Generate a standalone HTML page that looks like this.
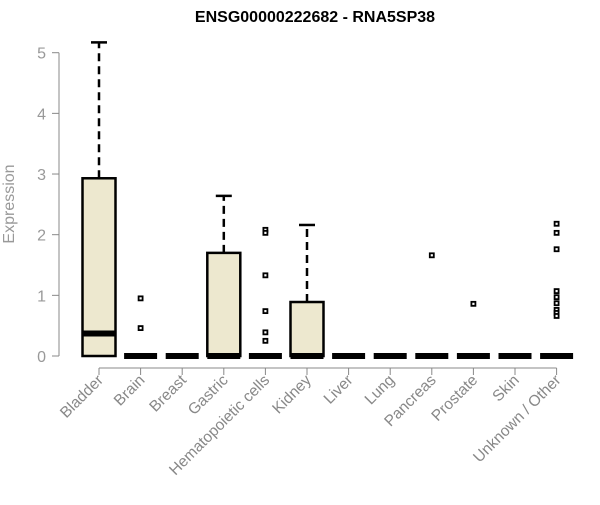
<!DOCTYPE html>
<html><head><meta charset="utf-8"><style>
body{margin:0;background:#fff}
svg{font-family:"Liberation Sans",Arial,sans-serif}
</style></head><body>
<svg id="chart" width="600" height="500">
<text x="315" y="22" text-anchor="middle" font-weight="bold" font-size="16">ENSG00000222682 - RNA5SP38</text>
<text transform="translate(14,204) rotate(-90)" text-anchor="middle" font-size="16" fill="#999">Expression</text>
<g id="yaxis"></g>
<g id="xaxis"></g>
<g id="plot"></g>
</svg>
<script>
const categories=["Bladder","Brain","Breast","Gastric","Hematopoietic cells","Kidney","Liver","Lung","Pancreas","Prostate","Skin","Unknown / Other"];
const q1=[0,0,0,0,0,0,0,0,0,0,0,0];
const medians=[0.37,0,0,0,0,0,0,0,0,0,0,0];
const q3=[2.93,0,0,1.7,0,0.89,0,0,0,0,0,0];
const whiskerLow=[0,0,0,0,0,0,0,0,0,0,0,0];
const whiskerHigh=[5.17,0,0,2.64,0,2.16,0,0,0,0,0,0];
const outliers=[[],[0.95,0.46],[],[],[2.08,2.03,1.33,0.74,0.39,0.25],[],[],[],[1.66],[0.86],[],[2.18,2.03,1.76,1.07,0.97,0.87,0.76,0.71,0.66]];
const yTicks=[0,1,2,3,4,5];
const NS="http://www.w3.org/2000/svg";
const y=v=>356-v*60.66;
const x=i=>99+i*41.6;
function mk(tag,attrs,parent){const e=document.createElementNS(NS,tag);for(const k in attrs)e.setAttribute(k,attrs[k]);parent.appendChild(e);return e;}
const ya=document.getElementById('yaxis'),xa=document.getElementById('xaxis'),p=document.getElementById('plot');
mk('line',{x1:59,x2:59,y1:y(0),y2:y(5),stroke:'#888'},ya);
yTicks.forEach(t=>{
  const l=mk('line',{x1:52,x2:59,y1:y(t),y2:y(t),stroke:'#888'},ya);
  
  
  const tx=mk('text',{x:46,y:y(t)+6,'text-anchor':'end','font-size':16,fill:'#999'},ya);
  tx.textContent=t;
  
  
});
mk('line',{x1:x(0),x2:x(categories.length-1),y1:368,y2:368,stroke:'#888'},xa);
categories.forEach((c,i)=>{
  const cx=x(i);
  mk('line',{x1:cx,x2:cx,y1:368,y2:375,stroke:'#888'},xa);
  const t=mk('text',{transform:`translate(${cx+5},${381}) rotate(-45)`,'text-anchor':'end','font-size':15.5,fill:'#888'},xa);
  t.textContent=c;
  
  
  const g=mk('g',{},p);
  
  
  const hw=16.5;
  if(whiskerHigh[i]>q3[i]){
    mk('line',{x1:cx,x2:cx,y1:y(q3[i]),y2:y(whiskerHigh[i]),stroke:'#000','stroke-width':2.5,'stroke-dasharray':'8,5'},g);
    mk('line',{x1:cx-8,x2:cx+8,y1:y(whiskerHigh[i]),y2:y(whiskerHigh[i]),stroke:'#000','stroke-width':2.5},g);
  }
  if(q3[i]>q1[i]){
    mk('rect',{x:cx-hw,y:y(q3[i]),width:hw*2,height:y(q1[i])-y(q3[i]),fill:'#ede8cf',stroke:'#000','stroke-width':2.5},g);
  }
  mk('line',{x1:cx-hw,x2:cx+hw,y1:y(medians[i]),y2:y(medians[i]),stroke:'#000','stroke-width':6},g);
  outliers[i].forEach(v=>{
    const r=mk('rect',{x:cx-2,y:y(v)-2,width:4,height:4,fill:'#fff',stroke:'#000','stroke-width':1.8},g);
    
    
  });
});
</script>
</body></html>
